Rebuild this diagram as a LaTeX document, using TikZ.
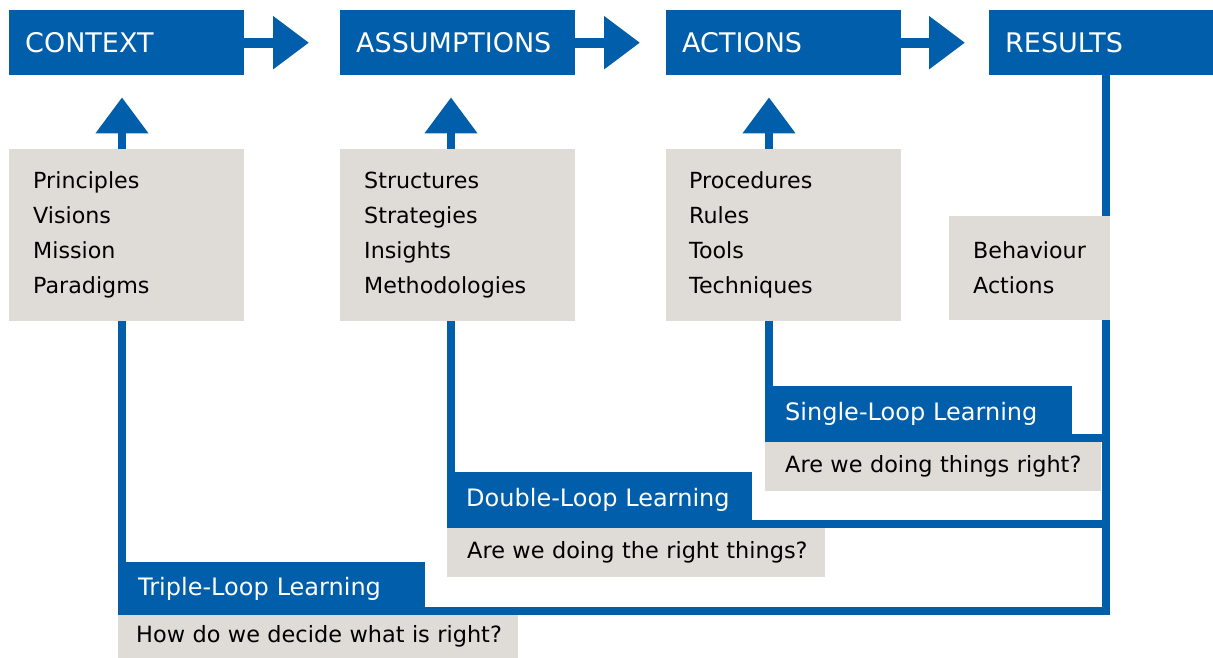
\documentclass[tikz,border=0pt]{standalone}
\usepackage{fontspec}
\setmainfont{DejaVu Sans}
\usetikzlibrary{arrows.meta,backgrounds}
\definecolor{loopblue}{RGB}{0,94,170}
\definecolor{boxgray}{RGB}{223,219,215}

\begin{document}
\begin{tikzpicture}[x=1pt,y=-1pt,
    head/.style={fill=loopblue,text=white,anchor=north west,inner xsep=16pt,text width=203pt,minimum height=65pt,font=\fontsize{27}{32}\selectfont},
    list/.style={fill=boxgray,anchor=north west,inner xsep=24pt,align=left,font=\fontsize{22.2}{35}\selectfont},
    looplabel/.style={fill=loopblue,text=white,anchor=north west,inner xsep=20pt,align=left,font=\fontsize{24}{29}\selectfont},
    question/.style={fill=boxgray,anchor=north west,inner xsep=20pt,align=left,font=\fontsize{22.4}{27}\selectfont},
    hflow/.style={line width=10pt,loopblue,-{Triangle[length=36pt,width=51pt]}},
    loopline/.style={line width=8pt,loopblue,-{Triangle[length=36pt,width=51pt]}}]
    \useasboundingbox (0,0) rectangle (1213,658);
    % top row
    \node[head] (context) at (9,10) {CONTEXT};
    \node[head] (assumptions) at (340,10) {ASSUMPTIONS};
    \node[head] (actions) at (666,10) {ACTIONS};
    \node[head,text width=192pt] (results) at (989,10) {RESULTS};
    % grey lists
    \node[list,text width=187pt,minimum height=172pt] (ctxlist) at (9,149) {Principles\\Visions\\Mission\\Paradigms};
    \node[list,text width=187pt,minimum height=172pt] (asslist) at (340,149) {Structures\\Strategies\\Insights\\Methodologies};
    \node[list,text width=189pt,minimum height=172pt,inner xsep=23pt] (actlist) at (666,149) {Procedures\\Rules\\Tools\\Techniques};
    \node[list,text width=113pt,minimum height=104pt] (reslist) at (949,216) {Behaviour\\Actions};
    % loops
    \node[looplabel,text width=267pt,minimum height=56pt] (single) at (765,386) {Single-Loop Learning};
    \node[question,text width=296pt,minimum height=49pt] (singleq) at (765,442) {\mbox{Are we doing things right?}};
    \node[looplabel,text width=267pt,minimum height=56pt,inner xsep=19pt] (double) at (447,472) {Double-Loop Learning};
    \node[question,text width=338pt,minimum height=49pt] (doubleq) at (447,528) {\mbox{Are we doing the right things?}};
    \node[looplabel,text width=267pt,minimum height=53pt] (triple) at (118,562) {Triple-Loop Learning};
    \node[question,text width=364pt,minimum height=43pt,inner xsep=18pt] (tripleq) at (118,615) {\mbox{How do we decide what is right?}};
    \coordinate (rail) at (1106,0);
    \coordinate (sturn) at (769,438);
    \coordinate (dturn) at (451,524);
    \coordinate (tturn) at (122,611);
    \begin{scope}[on background layer]
        \draw[hflow,shorten >=31pt] (context.east) -- (assumptions.west);
        \draw[hflow,shorten >=26pt] (assumptions.east) -- (actions.west);
        \draw[hflow,shorten >=24pt] (actions.east) -- (results.west);
        \draw[loopline,shorten >=22pt] (rail |- results.south) -- (rail |- tturn) -- (tturn) -- (tturn |- context.south);
        \draw[loopline,shorten >=22pt] (rail |- dturn) -- (dturn) -- (dturn |- assumptions.south);
        \draw[loopline,shorten >=22pt] (rail |- sturn) -- (sturn) -- (sturn |- actions.south);
    \end{scope}
\end{tikzpicture}
\end{document}
